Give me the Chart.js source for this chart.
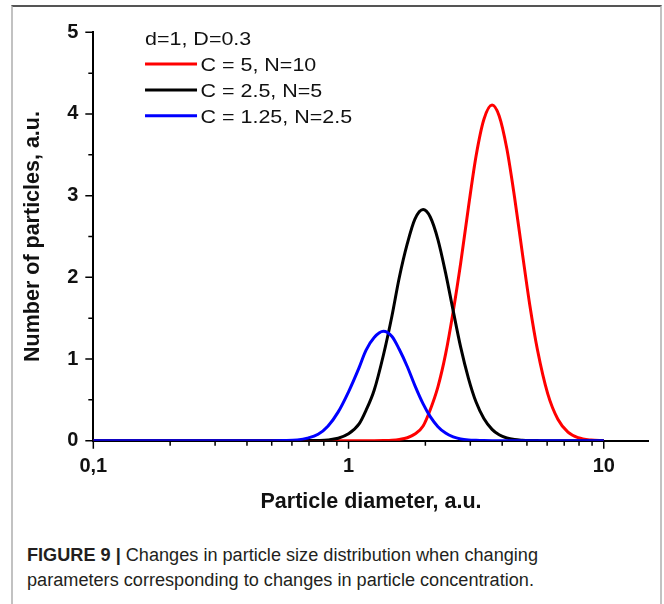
<!DOCTYPE html>
<html>
<head>
<meta charset="utf-8">
<script src="https://cdn.jsdelivr.net/npm/chart.js@4"></script>
<style>
  html, body { margin: 0; padding: 0; background: #fff; width: 664px; height: 604px; overflow: hidden; }
  #frame {
    position: absolute; left: 11px; top: 5px; width: 647px; height: 640px;
    border-top: 2px solid #555; border-left: 2px solid #c2c2c2; border-right: 2px solid #c2c2c2;
  }
  #chart { position: absolute; left: 0; top: 0; }
  #caption {
    position: absolute; left: 27px; top: 543px;
    font-family: "Liberation Sans", Arial, sans-serif; font-size: 18px; line-height: 24.5px;
    color: #231f20; white-space: nowrap; transform-origin: 0 0;
  }
</style>
</head>
<body>
<div id="frame"></div>
<canvas id="chart" width="664" height="520"></canvas>
<div id="caption">
  <div id="line1"><b>FIGURE 9 |</b> Changes in particle size distribution when changing</div>
  <div>parameters corresponding to changes in particle concentration.</div>
</div>
<script>
// particle diameter, a.u. (log axis)
const diameters = [0.1, 0.5, 0.56, 0.63, 0.69, 0.76, 0.83, 0.91, 1, 1.1, 1.17, 1.26, 1.37, 1.48, 1.58, 1.7, 1.82, 1.96, 2.09, 2.24,
                   2.4, 2.57, 2.75, 2.95, 3.16, 3.39, 3.65, 3.89, 4.17, 4.47, 4.79, 5.13, 5.5, 6.03, 6.61, 7.24, 7.94, 8.91, 10];

// number of particles, a.u.
const countC5 = [0, 0, 0, 0, 0, 0, 0, 0, 0, 0, 0, 0, 0.002, 0.006, 0.015, 0.036, 0.082, 0.181, 0.38, 0.66,
                 1.06, 1.58, 2.172, 2.859, 3.486, 3.933, 4.11, 3.979, 3.577, 2.984, 2.312, 1.662, 1.11, 0.577, 0.263, 0.105, 0.037, 0.008, 0.001];
const countC25 = [0, 0, 0, 0, 0.001, 0.003, 0.009, 0.03, 0.084, 0.205, 0.369, 0.617, 1.049, 1.53, 1.995, 2.415, 2.713, 2.83, 2.739, 2.463,
                  2.055, 1.592, 1.145, 0.764, 0.473, 0.272, 0.139, 0.072, 0.033, 0.014, 0.006, 0.002, 0.001, 0, 0, 0, 0, 0, 0];
const countC125 = [0, 0, 0.002, 0.01, 0.031, 0.079, 0.178, 0.35, 0.599, 0.895, 1.106, 1.264, 1.34, 1.276, 1.119, 0.905, 0.674, 0.45, 0.294, 0.172,
                   0.093, 0.046, 0.021, 0.009, 0.004, 0.001, 0, 0, 0, 0, 0, 0, 0, 0, 0, 0, 0, 0, 0];

const seriesLabels = ["C = 5, N=10", "C = 2.5, N=5", "C = 1.25, N=2.5"];
const legendTitle = "d=1, D=0.3";

const xMajorTicks = [0.1, 1, 10];
const xMinorTicks = [0.2, 0.3, 0.4, 0.5, 0.6, 0.7, 0.8, 0.9, 2, 3, 4, 5, 6, 7, 8, 9];
const yMajorTicks = [0, 1, 2, 3, 4, 5];
const yMinorTicks = [0.5, 1.5, 2.5, 3.5, 4.5];

const FONT = '"Liberation Sans", Arial, sans-serif';

function points(values) {
    return diameters.map((d, i) => ({x: d, y: values[i]}));
}

// tick marks (long for major, short for minor), pointing outwards
const tickMarks = {
    id: "tickMarks",
    beforeDatasetsDraw(chart) {
        let {ctx, chartArea, scales} = chart;
        ctx.save();
        ctx.strokeStyle = "#000";
        ctx.lineWidth = 1.5;
        ctx.beginPath();
        yMajorTicks.forEach(v => { let p = scales.y.getPixelForValue(v); ctx.moveTo(chartArea.left - 8, p); ctx.lineTo(chartArea.left, p); });
        yMinorTicks.forEach(v => { let p = scales.y.getPixelForValue(v); ctx.moveTo(chartArea.left - 5, p); ctx.lineTo(chartArea.left, p); });
        xMajorTicks.forEach(v => { let p = scales.x.getPixelForValue(v); ctx.moveTo(p, chartArea.bottom); ctx.lineTo(p, chartArea.bottom + 8); });
        xMinorTicks.forEach(v => { let p = scales.x.getPixelForValue(v); ctx.moveTo(p, chartArea.bottom); ctx.lineTo(p, chartArea.bottom + 5); });
        ctx.stroke();
        ctx.restore();
    }
};

// legend inside the plot, top-left (the figure's type is a bit wide, hence the x stretch)
const innerLegend = {
    id: "innerLegend",
    afterDatasetsDraw(chart) {
        let {ctx, chartArea} = chart;
        let x0 = chartArea.left + 51.7;
        let y0 = chartArea.top + 6;
        let sx = 1.13;
        ctx.save();
        ctx.font = "19px " + FONT;
        ctx.textBaseline = "alphabetic";
        ctx.fillStyle = "#111";
        ctx.save(); ctx.translate(x0, 0); ctx.scale(sx, 1);
        ctx.fillText(legendTitle, 0, y0 + 6.8);
        ctx.restore();
        chart.data.datasets.forEach((ds, i) => {
            let y = y0 + 25.8 * (i + 1);
            ctx.strokeStyle = ds.borderColor;
            ctx.lineWidth = 3;
            ctx.beginPath();
            ctx.moveTo(x0, y);
            ctx.lineTo(x0 + 52, y);
            ctx.stroke();
            ctx.save(); ctx.translate(x0 + 55.5, 0); ctx.scale(sx, 1);
            ctx.fillText(ds.label, 0, y + 6.8);
            ctx.restore();
        });
        ctx.restore();
    }
};

const colors = ["#ff0000", "#000000", "#0000ff"];
const allCounts = [countC5, countC25, countC125];

new Chart(document.getElementById("chart"), {
    type: "line",
    data: {
        datasets: allCounts.map((vals, i) => ({
            label: seriesLabels[i],
            data: points(vals),
            borderColor: colors[i],
            borderWidth: 3,
            pointRadius: 0,
            fill: false,
            cubicInterpolationMode: "monotone",
            order: 2 - i
        }))
    },
    options: {
        responsive: false,
        animation: false,
        layout: { padding: { left: 22.55, top: 32.3, right: 13.6, bottom: 7.2 } },
        plugins: { legend: { display: false }, tooltip: { enabled: false } },
        scales: {
            x: {
                type: "logarithmic",
                min: 0.1,
                max: 15,
                grid: { display: false, drawTicks: false },
                border: { display: true, color: "#000", width: 2 },
                ticks: {
                    autoSkip: false,
                    maxRotation: 0,
                    padding: 15.3,
                    color: "#111",
                    font: { family: FONT, size: 20, weight: "bold", lineHeight: 1 },
                    callback: v => v === 0.1 ? "0,1" : (v === 1 || v === 10 ? String(v) : "")
                },
                title: {
                    display: true,
                    text: "Particle diameter, a.u.",
                    color: "#111",
                    padding: { top: 0, bottom: 0 },
                    font: { family: FONT, size: 21.5, weight: "bold", lineHeight: 1 }
                }
            },
            y: {
                min: 0,
                max: 5,
                grid: { display: false, drawTicks: false },
                border: { display: true, color: "#000", width: 2 },
                ticks: {
                    stepSize: 1,
                    padding: 15,
                    color: "#111",
                    font: { family: FONT, size: 20, weight: "bold", lineHeight: 1 }
                },
                title: {
                    display: true,
                    text: "Number of particles, a.u.",
                    color: "#111",
                    padding: { top: 0, bottom: 8.15 },
                    font: { family: FONT, size: 21.5, weight: "bold", lineHeight: 1 }
                }
            }
        }
    },
    plugins: [tickMarks, innerLegend]
});

// condensed caption type: squeeze first line to its width in the figure
let cap = document.getElementById("caption");
let l1 = document.getElementById("line1");
l1.style.display = "inline-block";
let k = 511 / l1.getBoundingClientRect().width;
l1.style.display = "";
cap.style.transform = "scaleX(" + k + ")";
</script>
</body>
</html>
